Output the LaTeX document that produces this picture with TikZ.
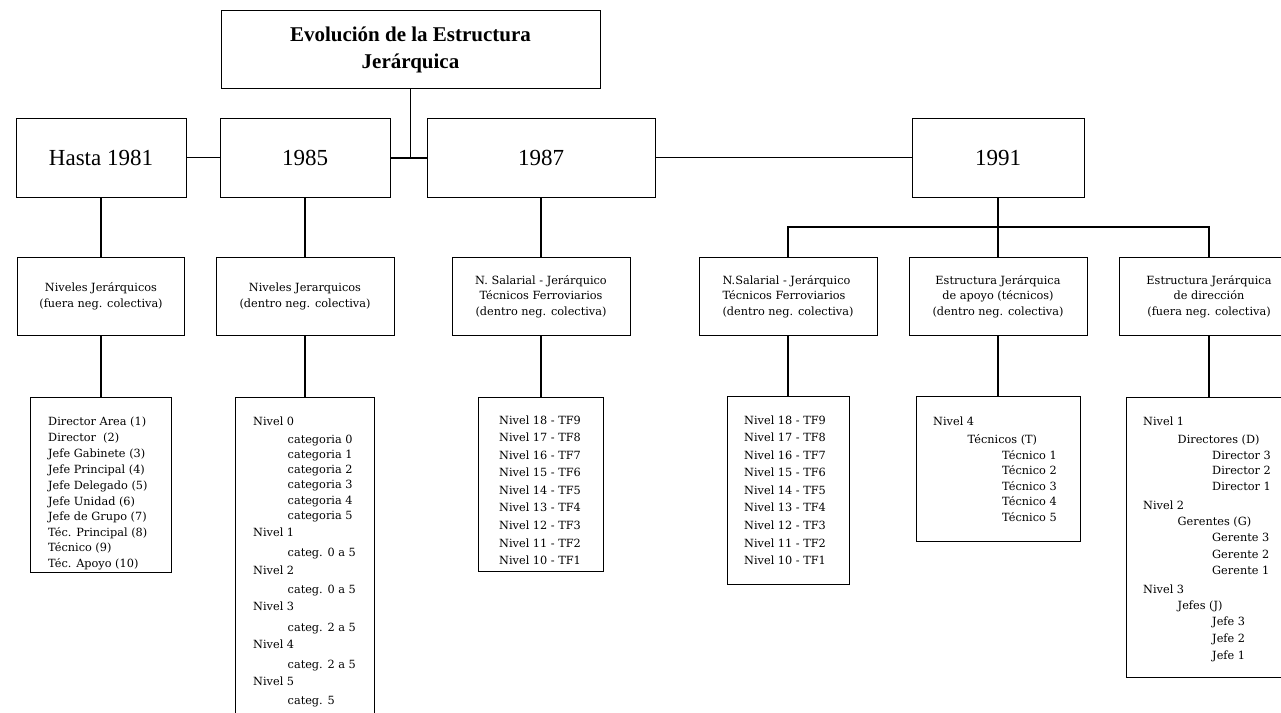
\documentclass[tikz,border=0pt]{standalone}
\usepackage{fontspec}
\setmainfont{Liberation Serif}
\newfontfamily\smallf{DejaVu Serif}
\tikzset{
  box/.style={draw, line width=0.9pt, inner sep=0pt, anchor=north, align=center},
  titlebox/.style={box, font=\bfseries\fontsize{21}{27}\selectfont},
  yearbox/.style={box, font=\fontsize{23}{27}\selectfont},
  midbox/.style={box, font=\smallf\fontsize{11.3}{15.5}\selectfont},
  listbox/.style={box},
  ln/.style={anchor=base west, inner sep=0pt, font=\smallf\fontsize{11.3}{14}\selectfont},
  thinconn/.style={line width=1pt},
  medconn/.style={line width=1.3pt},
  thickconn/.style={line width=1.8pt}
}
\begin{document}
\begin{tikzpicture}[x=1pt,y=-1pt]
\useasboundingbox (0,0) rectangle (1281,712);
\clip (0,0) rectangle (1281,712);

% title and years
\node[titlebox, minimum width=379, minimum height=78] (title) at (410.5,10) {Evolución de la Estructura\\Jerárquica};
\node[yearbox, minimum width=170, minimum height=79] (y81) at (101,118) {Hasta 1981};
\node[yearbox, minimum width=170, minimum height=79] (y85) at (305,118) {1985};
\node[yearbox, minimum width=228, minimum height=79] (y87) at (541,118) {1987};
\node[yearbox, minimum width=172, minimum height=79] (y91) at (998,118) {1991};

% second level
\node[midbox, minimum width=167, minimum height=78] (l1) at (101,257) {Niveles Jerárquicos\\(fuera neg. colectiva)};
\node[midbox, minimum width=178, minimum height=78] (l2) at (305,257) {Niveles Jerarquicos\\(dentro neg. colectiva)};
\node[midbox, minimum width=178, minimum height=78] (l3) at (541,257) {N. Salarial - Jerárquico\\Técnicos Ferroviarios\\(dentro neg. colectiva)};
\node[midbox, align=left, minimum width=178, minimum height=78] (l4) at (788,257) {N.Salarial - Jerárquico\\Técnicos Ferroviarios\\(dentro neg. colectiva)};
\node[midbox, minimum width=178, minimum height=78] (l5) at (998,257) {Estructura Jerárquica\\de apoyo (técnicos)\\(dentro neg. colectiva)};
\node[midbox, minimum width=180, minimum height=78] (l6) at (1209,257) {Estructura Jerárquica\\de dirección\\(fuera neg. colectiva)};

% third level boxes
\node[listbox, minimum width=141, minimum height=175] (m1) at (101,397) {};
\node[listbox, minimum width=139, minimum height=330] (m2) at (305,397) {};
\node[listbox, minimum width=125, minimum height=174] (m3) at (541,397) {};
\node[listbox, minimum width=122, minimum height=188] (m4) at (788,396) {};
\node[listbox, minimum width=164, minimum height=145] (m5) at (998,396) {};
\node[listbox, minimum width=166, minimum height=280] (m6) at (1209,397) {};

% connectors
\draw[thickconn] (title.south) -- (title.south |- y85.east);
\draw[thickconn] (y85.east) -- (y87.west);
\draw[thinconn] (y81.east) -- (y85.west);
\draw[thinconn] (y87.east) -- (y91.west);
\draw[medconn] (y81.south) -- (l1.north);
\draw[medconn] (y85.south) -- (l2.north);
\draw[thickconn] (y87.south) -- (l3.north);
\coordinate (bus) at (998,227);
\draw[thickconn] (y91.south) -- (l5.north);
\draw[thickconn] (l4.north) -- (l4.north |- bus) -- (l6.north |- bus) -- (l6.north);
\foreach \k in {1,...,6} \draw[thickconn] (l\k.south) -- (m\k.north);

% list texts
\foreach \ind/\yy/\t [count=\i] in {
  0/421.7/Director Area (1), 0/437.7/Director~ (2), 0/453.3/Jefe Gabinete (3),
  0/469.3/Jefe Principal (4), 0/485/Jefe Delegado (5), 0/501/Jefe Unidad (6),
  0/516.7/Jefe de Grupo (7), 0/532.7/Téc. Principal (8), 0/547.7/Técnico (9),
  0/563.3/Téc. Apoyo (10)}
  \node[ln] (ta\i) at ({48+34.5*\ind},\yy+4) {\t};

\foreach \ind/\yy/\t [count=\i] in {
  0/421.7/Nivel 0, 1/439/categoria 0, 1/454/categoria 1, 1/469/categoria 2,
  1/484.5/categoria 3, 1/500/categoria 4, 1/515/categoria 5,
  0/532.7/Nivel 1, 1/552.7/categ. 0 a 5, 0/570.3/Nivel 2, 1/589.3/categ. 0 a 5,
  0/606.7/Nivel 3, 1/627/categ. 2 a 5, 0/644.3/Nivel 4, 1/664/categ. 2 a 5,
  0/681/Nivel 5, 1/700/categ. 5}
  \node[ln] (tb\i) at ({253+34.5*\ind},\yy+4) {\t};

\foreach \ind/\yy/\t [count=\i] in {
  0/420/Nivel 18 - TF9, 0/437.7/Nivel 17 - TF8, 0/455/Nivel 16 - TF7,
  0/472.7/Nivel 15 - TF6, 0/490/Nivel 14 - TF5, 0/507.7/Nivel 13 - TF4,
  0/525.5/Nivel 12 - TF3, 0/543.3/Nivel 11 - TF2, 0/560.5/Nivel 10 - TF1}
  \node[ln] (tc\i) at ({499+34.5*\ind},\yy+4) {\t};

\foreach \ind/\yy/\t [count=\i] in {
  0/420/Nivel 18 - TF9, 0/437.7/Nivel 17 - TF8, 0/455/Nivel 16 - TF7,
  0/472.7/Nivel 15 - TF6, 0/490/Nivel 14 - TF5, 0/507.7/Nivel 13 - TF4,
  0/525.5/Nivel 12 - TF3, 0/543.3/Nivel 11 - TF2, 0/560.5/Nivel 10 - TF1}
  \node[ln] (td\i) at ({744+34.5*\ind},\yy+4) {\t};

\foreach \ind/\yy/\t [count=\i] in {
  0/421/Nivel 4, 1/439/Técnicos (T), 2/455/Técnico 1, 2/470.7/Técnico 2,
  2/486/Técnico 3, 2/501.7/Técnico 4, 2/517/Técnico 5}
  \node[ln] (te\i) at ({933+34.5*\ind},\yy+4) {\t};

\foreach \ind/\yy/\t [count=\i] in {
  0/421.7/Nivel 1, 1/439/Directores (D), 2/455/Director 3, 2/470.7/Director 2,
  2/486.7/Director 1, 0/505.7/Nivel 2, 1/521.7/Gerentes (G), 2/537.7/Gerente 3,
  2/554/Gerente 2, 2/570/Gerente 1, 0/589/Nivel 3, 1/605/Jefes (J),
  2/621/Jefe 3, 2/638.3/Jefe 2, 2/655/Jefe 1}
  \node[ln] (tf\i) at ({1143+34.5*\ind},\yy+4) {\t};
\end{tikzpicture}
\end{document}
